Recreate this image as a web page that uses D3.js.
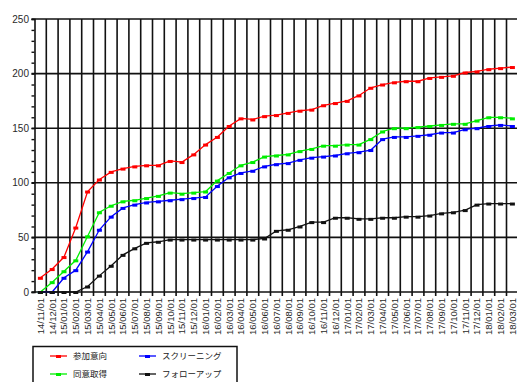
<!DOCTYPE html>
<html>
<head>
<meta charset="utf-8">
<script src="https://cdn.jsdelivr.net/npm/d3@7"></script>
<style>
  html, body { margin: 0; padding: 0; background: #fff; }
  svg { display: block; }
</style>
</head>
<body>
<svg id="chart" width="517" height="382"></svg>
<script>
const categories = [
  "14/11/01","14/12/01",
  "15/01/01","15/02/01","15/03/01","15/04/01","15/05/01","15/06/01","15/07/01","15/08/01","15/09/01","15/10/01","15/11/01","15/12/01",
  "16/01/01","16/02/01","16/03/01","16/04/01","16/05/01","16/06/01","16/07/01","16/08/01","16/09/01","16/10/01","16/11/01","16/12/01",
  "17/01/01","17/02/01","17/03/01","17/04/01","17/05/01","17/06/01","17/07/01","17/08/01","17/09/01","17/10/01","17/11/01","17/12/01",
  "18/01/01","18/02/01","18/03/01"
];
const seriesNames = ["参加意向", "スクリーニング", "同意取得", "フォローアップ"];
const seriesColors = ["#ff0000", "#0000ff", "#00ee00", "#111111"];
const sankaIko = [13,21,32,59,92,103,110,113,115,116,116,120,119,126,135,142,152,159,158,161,162,164,166,167,171,173,175,180,187,190,192,193,193,196,197,198,201,202,204,205,206];
const screening = [0,0,13,20,37,57,69,77,80,82,83,84,85,86,87,97,105,109,111,115,117,118,121,123,124,125,127,128,130,140,142,142,143,144,146,146,149,150,152,153,152];
const doiShutoku = [0,9,19,29,51,73,79,83,84,86,88,91,90,91,92,102,109,116,119,124,125,126,129,131,134,134,135,135,140,147,150,150,151,152,153,154,154,157,160,160,159];
const followUp = [0,0,0,0,5,15,24,34,40,45,46,48,48,48,48,48,48,48,48,49,56,57,60,64,64,68,68,67,67,68,68,69,69,70,72,73,75,80,81,81,81];
const yTicks = [0, 50, 100, 150, 200, 250];

const seriesData = [sankaIko, screening, doiShutoku, followUp];

(function () {
const svg = d3.select("#chart");
const mLeft = 34.5, mTop = 19, mBottom = 292, bandW = 11.8;
const x = d3.scaleBand().domain(categories).range([mLeft, mLeft + bandW * categories.length]).padding(0);
const y = d3.scaleLinear().domain([0, 250]).range([mBottom, mTop]);
const mRight = x.range()[1];
const gridColor = "#111";

const g = svg.append("g");
categories.forEach((c, i) => {
  if (i > 0) {
    g.append("line").attr("x1", x(c)).attr("x2", x(c)).attr("y1", y(250)).attr("y2", mBottom + 4)
      .attr("stroke", gridColor).attr("stroke-width", 1.6);
  }
});
g.append("line").attr("x1", mRight).attr("x2", mRight).attr("y1", y(250)).attr("y2", mBottom + 4)
  .attr("stroke", gridColor).attr("stroke-width", 1.6);

yTicks.forEach(t => {
  g.append("line").attr("x1", mLeft - 3).attr("x2", mRight).attr("y1", y(t)).attr("y2", y(t))
    .attr("stroke", gridColor).attr("stroke-width", 1.6);
});

const yAxis = d3.axisLeft(y).tickValues(d3.range(0, 251, 10)).tickSize(3).tickFormat("");
const ya = svg.append("g").attr("transform", `translate(${mLeft},0)`).call(yAxis);
ya.select(".domain").attr("stroke", gridColor).attr("stroke-width", 1.6);
ya.selectAll(".tick line").attr("stroke", gridColor).attr("stroke-width", 1.4);

svg.append("g").selectAll("text").data(yTicks).join("text")
  .attr("x", 29).attr("y", d => y(d)).attr("dy", "0.35em")
  .attr("text-anchor", "end")
  .attr("font-family", "Liberation Sans, Arial, sans-serif").attr("font-size", 10)
  .attr("fill", "#2a2a2a").text(d => d);

svg.append("g").selectAll("text").data(categories).join("text")
  .attr("transform", d => `translate(${x(d) + bandW / 2 + 3.3},${mBottom + 6}) rotate(-90)`)
  .attr("text-anchor", "end")
  .attr("font-family", "Liberation Sans, Arial, sans-serif").attr("font-size", 9.5)
  .attr("fill", "#2a2a2a").text(d => d);

const line = d3.line().x((d, i) => x(categories[i]) + bandW / 2).y(d => y(d));
seriesData.forEach((vals, si) => {
  const col = seriesColors[si];
  svg.append("path").datum(vals).attr("d", line)
    .attr("fill", "none").attr("stroke", col).attr("stroke-width", 1.3);
  svg.append("g").selectAll("rect").data(vals).join("rect")
    .attr("x", (d, i) => x(categories[i]) + bandW / 2 - 2.5)
    .attr("y", d => y(d) - 1)
    .attr("width", 5).attr("height", 3)
    .attr("fill", col);
});

const lg = svg.append("g");
lg.append("rect").attr("x", 33).attr("y", 346.5).attr("width", 204).attr("height", 45)
  .attr("fill", "#fff").attr("stroke", "#111").attr("stroke-width", 1.5);
const legendPos = [
  {lx: 50, tx: 73, y: 356},
  {lx: 139, tx: 162, y: 356},
  {lx: 50, tx: 73, y: 374},
  {lx: 139, tx: 162, y: 374}
];
seriesNames.forEach((name, i) => {
  const p = legendPos[i];
  lg.append("line").attr("x1", p.lx).attr("x2", p.lx + 17).attr("y1", p.y).attr("y2", p.y)
    .attr("stroke", seriesColors[i]).attr("stroke-width", 1.3);
  lg.append("rect").attr("x", p.lx + 6).attr("y", p.y - 1).attr("width", 5).attr("height", 3)
    .attr("fill", seriesColors[i]);
  lg.append("text").attr("x", p.tx).attr("y", p.y).attr("dy", "0.35em")
    .attr("font-family", "Noto Sans CJK JP, sans-serif").attr("font-size", 8.5)
    .attr("fill", "#222").text(name);
});
})();
</script>
</body>
</html>
